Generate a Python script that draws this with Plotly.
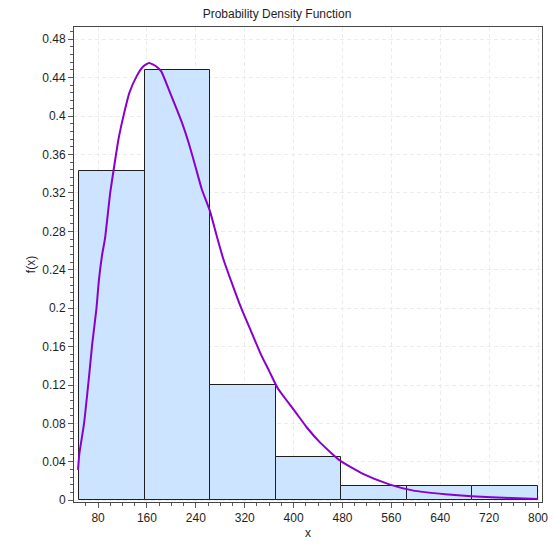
import plotly.graph_objects as go

# Histogram bins (edges) and bar heights
bin_edges = [49.3, 156.5, 263.8, 371.0, 478.2, 585.5, 692.7, 800.0]
bar_heights = [0.343, 0.448, 0.120, 0.0448, 0.0151, 0.0151, 0.0151]

# Fitted PDF curve points
curve_x = [47.2, 49.3, 56.9, 62.2, 66.1, 70.3, 74.2, 77.4, 81.1, 86.5, 91.3, 100.0,
           106.5, 113.4, 121.5, 131.2, 143.0, 153.8, 163.5, 175.3, 183.4, 195.8, 206.7,
           217.3, 228.1, 239.0, 249.6, 263.2, 273.9, 284.7, 298.1, 314.3, 330.4, 346.6,
           360.1, 373.5, 384.4, 405.8, 422.0, 443.5, 475.8, 513.6, 556.6, 594.4, 648.2,
           691.3, 755.9, 800.0]
curve_y = [0.0317, 0.0482, 0.0792, 0.1103, 0.1345, 0.1620, 0.1827, 0.2000, 0.2276, 0.2551,
           0.2724, 0.3207, 0.3482, 0.3758, 0.3999, 0.4241, 0.4413, 0.4516, 0.4552, 0.4516,
           0.4465, 0.4275, 0.4103, 0.3931, 0.3724, 0.3482, 0.3241, 0.3008, 0.2758, 0.2517,
           0.2276, 0.2000, 0.1759, 0.1517, 0.1345, 0.1172, 0.1075, 0.0895, 0.0755, 0.0600,
           0.0414, 0.0275, 0.0166, 0.0103, 0.0062, 0.0041, 0.0024, 0.0013]

x_ticks = [80, 160, 240, 320, 400, 480, 560, 640, 720, 800]
y_ticks = [0, 0.04, 0.08, 0.12, 0.16, 0.2, 0.24, 0.28, 0.32, 0.36, 0.4, 0.44, 0.48]

centers = [(a + b) / 2 for a, b in zip(bin_edges[:-1], bin_edges[1:])]
widths = [b - a for a, b in zip(bin_edges[:-1], bin_edges[1:])]

font_family = "Liberation Sans, Arial, sans-serif"
grid_color = "rgb(236,236,236)"

fig = go.Figure()
fig.add_trace(go.Bar(
    x=centers, y=bar_heights, width=widths,
    marker=dict(color="rgb(204,228,255)", line=dict(color="rgb(30,30,30)", width=1)),
    showlegend=False, hoverinfo="skip",
))
fig.add_trace(go.Scatter(
    x=curve_x, y=curve_y, mode="lines",
    line=dict(color="rgb(136,0,204)", width=2, shape="spline", smoothing=0.5),
    showlegend=False,
))

fig.update_layout(
    width=554, height=544,
    margin=dict(l=74, r=6, t=27, b=39),
    paper_bgcolor="white", plot_bgcolor="white",
    font=dict(family=font_family, size=12, color="rgb(30,30,30)"),
    title=dict(text="Probability Density Function", x=0.5, xref="container", xanchor="center",
               y=1 - 14 / 544, yanchor="middle", yref="container",
               font=dict(size=12, family=font_family, color="rgb(30,30,30)")),
    bargap=0,
)

fig.update_xaxes(
    range=[40.6, 806.5], tickvals=x_ticks, ticktext=[str(v) for v in x_ticks],
    ticks="outside", ticklen=5, tickcolor="rgb(90,90,90)",
    showline=True, linecolor="rgb(70,70,70)", linewidth=1, mirror=True,
    showgrid=True, gridcolor=grid_color, griddash="4px,3px", gridwidth=1,
    zeroline=False,
    minor=dict(dtick=20, tick0=0, ticks="outside", ticklen=3, tickcolor="rgb(90,90,90)", showgrid=False),
    title=dict(text="x", standoff=4, font=dict(size=12)),
    tickfont=dict(size=12),
)
fig.update_yaxes(
    range=[-0.0018, 0.4927], tickvals=y_ticks, ticktext=[("%g" % v) for v in y_ticks],
    ticks="outside", ticklen=5, tickcolor="rgb(90,90,90)",
    showline=True, linecolor="rgb(70,70,70)", linewidth=1, mirror=True,
    showgrid=True, gridcolor=grid_color, griddash="4px,3px", gridwidth=1,
    zeroline=False,
    minor=dict(dtick=0.008, tick0=0, ticks="outside", ticklen=3, tickcolor="rgb(90,90,90)", showgrid=False),
    title=dict(text="f(x)", standoff=4, font=dict(size=12)),
    tickfont=dict(size=12),
)

fig.write_html("out.html")
